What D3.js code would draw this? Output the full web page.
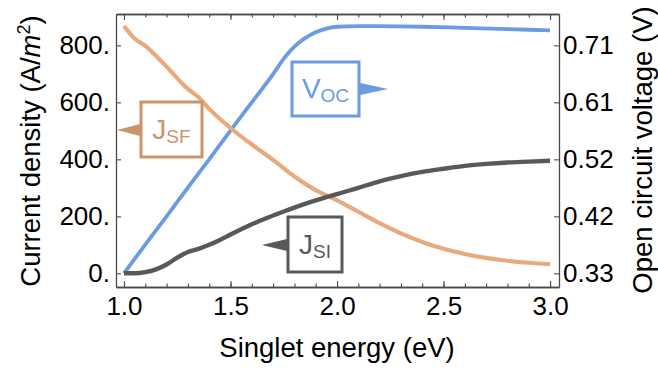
<!DOCTYPE html>
<html>
<head>
<meta charset="utf-8">
<script src="https://cdn.jsdelivr.net/npm/d3@7"></script>
<style>
  body { margin: 0; background: #fff; }
  text { font-family: "Liberation Sans", Arial, sans-serif; }
</style>
</head>
<body>
<script>
//Width and height
var margin = {top: 14, right: 99, bottom: 81, left: 116};
var width = 658 - margin.left - margin.right;
var height = 368 - margin.top - margin.bottom;

// singlet energy (eV)
var energySF = [1.0, 1.05, 1.1, 1.2, 1.3, 1.35, 1.4, 1.5, 1.6, 1.7, 1.8, 1.9, 2.0, 2.1, 2.2, 2.3, 2.4, 2.5, 2.6, 2.7, 2.8, 2.9, 3.0];
var currentSF = [868, 824, 798, 725, 647, 618, 577, 510, 452, 398, 340, 292, 256, 216, 176, 140, 110, 86, 68, 54, 44, 37, 32];

var energySI = [1.0, 1.05, 1.1, 1.15, 1.2, 1.25, 1.3, 1.35, 1.4, 1.45, 1.5, 1.6, 1.75, 1.9, 2.0, 2.1, 2.2, 2.3, 2.4, 2.5, 2.6, 2.7, 2.8, 2.9, 3.0];
var currentSI = [0, 0, 4, 14, 31, 55, 75, 86, 100, 117, 136, 172, 217, 256, 278, 300, 323, 341, 356, 367, 377, 384, 389, 392, 395];

var energyVoc = [1.0, 1.1, 1.2, 1.3, 1.4, 1.5, 1.6, 1.7, 1.75, 1.8, 1.85, 1.9, 1.95, 2.0, 2.1, 2.2, 2.4, 2.6, 2.8, 3.0];
var voltageVoc = [0.330, 0.378, 0.425, 0.473, 0.520, 0.568, 0.615, 0.662, 0.688, 0.708, 0.722, 0.732, 0.738, 0.741, 0.742, 0.742, 0.741, 0.739, 0.737, 0.735];

// ticks
var xTicks = [1.0, 1.5, 2.0, 2.5, 3.0];
var xTickLabels = ["1.0", "1.5", "2.0", "2.5", "3.0"];
var leftTicks = [0, 200, 400, 600, 800];
var leftTickLabels = ["0.", "200.", "400.", "600.", "800."];
var rightTicks = [0.33, 0.425, 0.52, 0.615, 0.71];
var rightTickLabels = ["0.33", "0.42", "0.52", "0.61", "0.71"];

var blue = "#6b9be0", orange = "#e8aa7d", orangeDark = "#c9956b", gray = "#595959", axisColor = "#4a4a4a";

var svg = d3.select("body")
  .append("svg")
  .attr("width", 658)
  .attr("height", 368);

var g = svg.append("g")
  .attr("transform", "translate(" + margin.left + "," + margin.top + ")");

var xScale = d3.scaleLinear().domain([0.9625, 3.042]).range([0, width]);
var yScale = d3.scaleLinear().domain([-48, 910]).range([height, 0]);
// right axis shares tick positions: 0.33 V at 0, 0.71 V at 800
var vPerJ = (0.71 - 0.33) / 800;
var yRight = d3.scaleLinear().domain([0.33 - 48 * vPerJ, 0.33 + 910 * vPerJ]).range([height, 0]);

// curves
var lineJ = d3.line()
  .x(function(d) { return xScale(d[0]); })
  .y(function(d) { return yScale(d[1]); })
  .curve(d3.curveMonotoneX);
var lineV = d3.line()
  .x(function(d) { return xScale(d[0]); })
  .y(function(d) { return yRight(d[1]); })
  .curve(d3.curveMonotoneX);

g.append("path").datum(d3.zip(energyVoc, voltageVoc))
  .attr("d", lineV).attr("fill", "none").attr("stroke", blue).attr("stroke-width", 3.8);
g.append("path").datum(d3.zip(energySF, currentSF))
  .attr("d", lineJ).attr("fill", "none").attr("stroke", orange).attr("stroke-width", 4.2);
g.append("path").datum(d3.zip(energySI, currentSI))
  .attr("d", lineJ).attr("fill", "none").attr("stroke", gray).attr("stroke-width", 4.4);

// frame axes, ticks inward
var minorX = d3.range(10, 31).map(function(i) { return i / 10; });

function styleAxis(sel) {
  sel.select(".domain").attr("stroke", axisColor).attr("stroke-width", 1.3);
  sel.selectAll(".tick line").attr("stroke", axisColor).attr("stroke-width", 1.1);
  sel.selectAll("text").attr("font-size", 26).attr("fill", "#000")
    .attr("font-family", "Liberation Sans, Arial, sans-serif");
}

g.append("g").attr("transform", "translate(0," + height + ")")
  .call(d3.axisBottom(xScale).tickValues(minorX).tickSizeInner(-3.5).tickSizeOuter(0).tickFormat(""))
  .call(styleAxis);
var xAxis = g.append("g").attr("transform", "translate(0," + height + ")")
  .call(d3.axisBottom(xScale).tickValues(xTicks).tickSizeInner(-6).tickSizeOuter(0)
    .tickFormat(function(d, i) { return xTickLabels[i]; }))
  .call(styleAxis);
xAxis.selectAll("text").attr("y", 0).attr("dy", 0).attr("transform", "translate(0,28)");

g.append("g")
  .call(d3.axisTop(xScale).tickValues(minorX).tickSizeInner(-3.5).tickSizeOuter(0).tickFormat(""))
  .call(styleAxis);
g.append("g")
  .call(d3.axisTop(xScale).tickValues(xTicks).tickSizeInner(-6).tickSizeOuter(0).tickFormat(""))
  .call(styleAxis);

g.append("g")
  .call(d3.axisLeft(yScale).tickValues(leftTicks).tickSizeInner(-5).tickSizeOuter(0).tickPadding(6)
    .tickFormat(function(d, i) { return leftTickLabels[i]; }))
  .call(styleAxis);

g.append("g").attr("transform", "translate(" + width + ",0)")
  .call(d3.axisRight(yRight).tickValues(rightTicks).tickSizeInner(-5).tickSizeOuter(0).tickPadding(4)
    .tickFormat(function(d, i) { return rightTickLabels[i]; }))
  .call(styleAxis);

// axis titles
svg.append("text")
  .attr("x", 337).attr("y", 357)
  .attr("text-anchor", "middle").attr("font-size", 27.5)
  .text("Singlet energy (eV)");

var yTitle = svg.append("text")
  .attr("transform", "translate(40,151) rotate(-90)")
  .attr("text-anchor", "middle").attr("font-size", 27.5);
yTitle.append("tspan").text("Current density (A/");
yTitle.append("tspan").attr("font-style", "italic").text("m");
yTitle.append("tspan").attr("font-size", 18).attr("dy", -10).text("2");
yTitle.append("tspan").attr("dy", 10).text(")");

svg.append("text")
  .attr("transform", "translate(652,150) rotate(-90)")
  .attr("text-anchor", "middle").attr("font-size", 27.5)
  .text("Open circuit voltage (V)");

// callout labels
function callout(box, arrow, main, sub, color) {
  var c = svg.append("g");
  c.append("path")
    .attr("d", "M" + arrow.tip[0] + "," + arrow.tip[1] +
      "L" + arrow.base + "," + (arrow.tip[1] - arrow.half) +
      "L" + arrow.base + "," + (arrow.tip[1] + arrow.half) + "Z")
    .attr("fill", color);
  c.append("rect")
    .attr("x", box.x).attr("y", box.y).attr("width", box.w).attr("height", box.h)
    .attr("fill", "#fff").attr("stroke", color).attr("stroke-width", 3);
  var t = c.append("text")
    .attr("x", box.x + box.w / 2).attr("y", box.y + box.h / 2 + 9)
    .attr("text-anchor", "middle").attr("fill", color).attr("font-size", 28);
  t.append("tspan").text(main);
  t.append("tspan").attr("font-size", 19).attr("dy", 4).text(sub);
}

callout({x: 141, y: 102, w: 61, h: 55}, {tip: [117, 130], base: 142, half: 6.5}, "J", "SF", orangeDark);
callout({x: 292, y: 62, w: 67, h: 54}, {tip: [388, 89], base: 358, half: 6.5}, "V", "OC", blue);
callout({x: 288, y: 217, w: 54, h: 55}, {tip: [262, 245], base: 289, half: 6.5}, "J", "SI", gray);
</script>
</body>
</html>
